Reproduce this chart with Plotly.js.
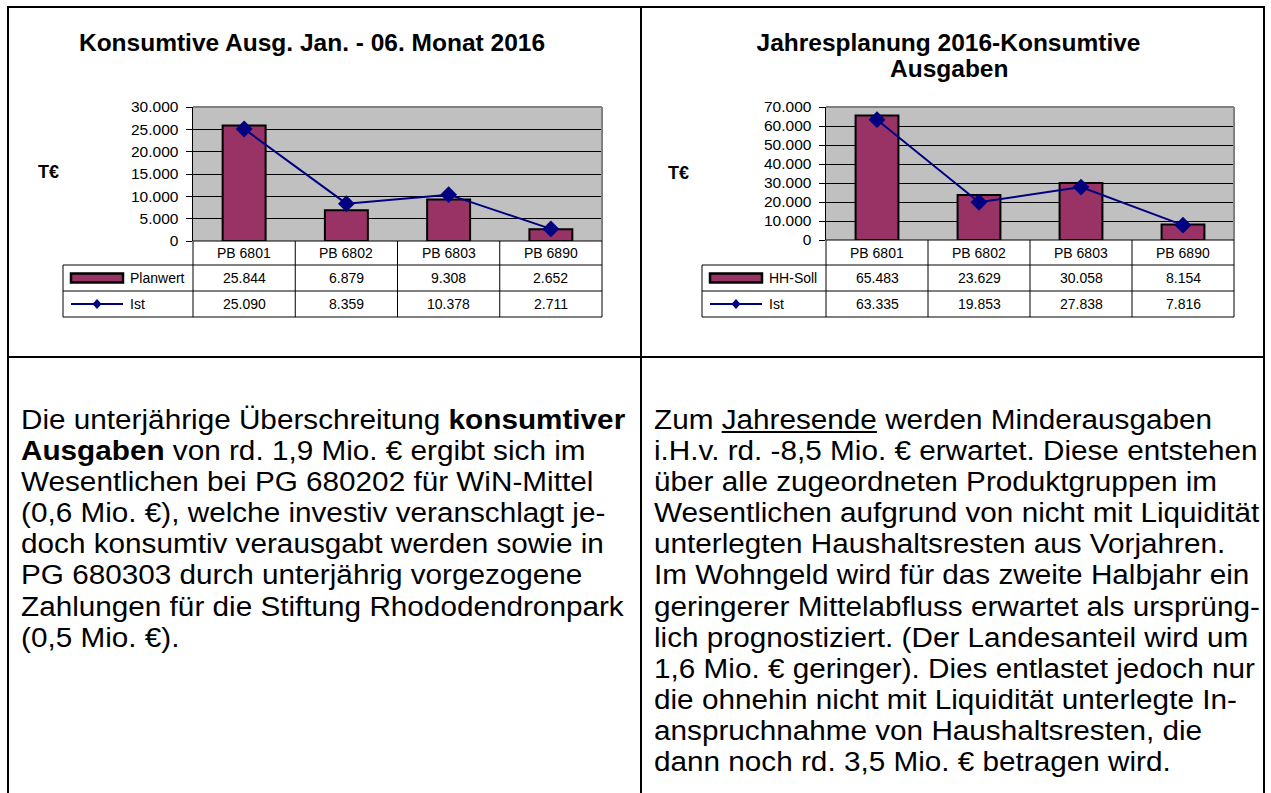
<!DOCTYPE html>
<html><head><meta charset="utf-8">
<script src="https://cdn.plot.ly/plotly-3.0.1.min.js"></script>
<style>
body{margin:0;background:#fff;}
#page{position:relative;width:1271px;height:793px;overflow:hidden;background:#fff;font-family:Arial,"Liberation Sans",sans-serif;}
.rule{position:absolute;background:#000;}
.chart{position:absolute;}
.txt{position:absolute;font-size:27px;line-height:31.1px;color:#000;white-space:nowrap;transform:scaleX(1.1);transform-origin:0 0;}
</style></head>
<body><div id="page">
<div id="chartL" class="chart" style="left:0;top:0;width:640px;height:356px"></div>
<div id="chartR" class="chart" style="left:641px;top:0;width:630px;height:356px"></div>
<div id="txtL" class="txt" style="left:21px;top:405px"></div>
<div id="txtR" class="txt" style="left:654px;top:405px"></div>
<div class="rule" style="left:7px;top:6px;width:1258px;height:2px"></div>
<div class="rule" style="left:7px;top:6px;width:2px;height:800px"></div>
<div class="rule" style="left:640px;top:6px;width:2px;height:800px"></div>
<div class="rule" style="left:1263px;top:6px;width:2px;height:800px"></div>
<div class="rule" style="left:7px;top:356px;width:1258px;height:2px"></div>
</div>
<script>
// ---- data ----
const categories = ['PB 6801', 'PB 6802', 'PB 6803', 'PB 6890'];
const leftTitleLines = ['Konsumtive Ausg. Jan. - 06. Monat 2016'];
const leftBarName = 'Planwert';
const leftBarValues = [25844, 6879, 9308, 2652];
const leftLineName = 'Ist';
const leftLineValues = [25090, 8359, 10378, 2711];
const leftYTicks = [0, 5000, 10000, 15000, 20000, 25000, 30000];

const rightTitleLines = ['Jahresplanung 2016-Konsumtive', 'Ausgaben'];
const rightBarName = 'HH-Soll';
const rightBarValues = [65483, 23629, 30058, 8154];
const rightLineName = 'Ist';
const rightLineValues = [63335, 19853, 27838, 7816];
const rightYTicks = [0, 10000, 20000, 30000, 40000, 50000, 60000, 70000];

const unitLabel = 'T€';

const leftTextLines = [
  'Die unterjährige Überschreitung <b>konsumtiver</b>',
  '<b>Ausgaben</b> von rd. 1,9 Mio. € ergibt sich im',
  'Wesentlichen bei PG 680202 für WiN-Mittel',
  '(0,6 Mio. €), welche investiv veranschlagt je-',
  'doch konsumtiv verausgabt werden sowie in',
  'PG 680303 durch unterjährig vorgezogene',
  'Zahlungen für die Stiftung Rhododendronpark',
  '(0,5 Mio. €).'
];
const rightTextLines = [
  'Zum <u>Jahresende</u> werden Minderausgaben',
  'i.H.v. rd. -8,5 Mio. € erwartet. Diese entstehen',
  'über alle zugeordneten Produktgruppen im',
  'Wesentlichen aufgrund von nicht mit Liquidität',
  'unterlegten Haushaltsresten aus Vorjahren.',
  'Im Wohngeld wird für das zweite Halbjahr ein',
  'geringerer Mittelabfluss erwartet als ursprüng-',
  'lich prognostiziert. (Der Landesanteil wird um',
  '1,6 Mio. € geringer). Dies entlastet jedoch nur',
  'die ohnehin nicht mit Liquidität unterlegte In-',
  'anspruchnahme von Haushaltsresten, die',
  'dann noch rd. 3,5 Mio. € betragen wird.'
];

document.getElementById('txtL').innerHTML = leftTextLines.join('<br>');
document.getElementById('txtR').innerHTML = rightTextLines.join('<br>');

const FONT = 'Arial, "Liberation Sans", sans-serif';
function fmt(v) { return String(v).replace(/\B(?=(\d{3})+(?!\d))/g, '.'); }

function drawChart(id, cfg) {
  const W = cfg.width, H = cfg.height;
  const L = cfg.plotLeft, R = cfg.plotRight, T = cfg.plotTop, B = cfg.plotBottom;
  const pw = R - L, ph = B - T;
  const px = v => (v - L) / pw;
  const py = v => (B - v) / ph;
  const rows = cfg.rows;
  const black = '#000';
  const ln = (x0, y0, x1, y1, xref, color, width) => ({
    type: 'line', xref: xref || 'paper', yref: 'paper', x0: x0, y0: y0, x1: x1, y1: y1,
    line: {color: color || black, width: width || 1}, layer: 'above'
  });
  const shapes = [];
  shapes.push(ln(0, 1, 1, 1, 'paper', '#808080', 2));
  shapes.push(ln(1, 0, 1, 1, 'paper', '#808080', 2));
  shapes.push(ln(0, py(rows[0]), 1, py(rows[0])));
  for (let r = 1; r < rows.length; r++) {
    shapes.push(ln(px(cfg.legendLeft), py(rows[r]), 1, py(rows[r])));
  }
  shapes.push(ln(0, py(rows[0]), 0, py(rows[3])));
  shapes.push(ln(1, py(rows[0]), 1, py(rows[3])));
  shapes.push(ln(px(cfg.legendLeft), py(rows[1]), px(cfg.legendLeft), py(rows[3])));
  for (let i = 0; i < categories.length - 1; i++) {
    shapes.push(ln(i + 0.5, py(rows[0]), i + 0.5, py(rows[3]), 'x'));
  }
  const r1c = (rows[1] + rows[2]) / 2, r2c = (rows[2] + rows[3]) / 2;
  const k0 = cfg.legendLeft + 8, k1 = cfg.legendLeft + 60, kc = (k0 + k1) / 2;
  shapes.push({type: 'rect', xref: 'paper', yref: 'paper', x0: px(k0), x1: px(k1),
    y0: py(r1c - 4.5), y1: py(r1c + 4.5), fillcolor: '#993366', line: {color: black, width: 2.5}});
  shapes.push(ln(px(k0), py(r2c), px(k1), py(r2c), 'paper', '#000080', 2));
  const d = 4.5, dv = 5;
  shapes.push({type: 'path', xref: 'paper', yref: 'paper',
    path: 'M' + px(kc) + ',' + py(r2c - dv) + ' L' + px(kc + d) + ',' + py(r2c) +
          ' L' + px(kc) + ',' + py(r2c + dv) + ' L' + px(kc - d) + ',' + py(r2c) + ' Z',
    fillcolor: '#000080', line: {color: '#000080', width: 0}});

  const ann = [];
  const hc = (rows[0] + rows[1]) / 2;
  categories.forEach((c, i) => {
    ann.push({xref: 'x', yref: 'paper', x: c, y: py(hc), text: c, showarrow: false,
      xanchor: 'center', yanchor: 'middle', font: {family: FONT, size: 14, color: black}});
    ann.push({xref: 'x', yref: 'paper', x: c, y: py(r1c), text: fmt(cfg.barValues[i]), showarrow: false,
      xanchor: 'center', yanchor: 'middle', font: {family: FONT, size: 14, color: black}});
    ann.push({xref: 'x', yref: 'paper', x: c, y: py(r2c), text: fmt(cfg.lineValues[i]), showarrow: false,
      xanchor: 'center', yanchor: 'middle', font: {family: FONT, size: 14, color: black}});
  });
  ann.push({xref: 'paper', yref: 'paper', x: px(k1 + 5), y: py(r1c), text: cfg.barName, showarrow: false,
    xanchor: 'left', yanchor: 'middle', font: {family: FONT, size: 14, color: black}});
  ann.push({xref: 'paper', yref: 'paper', x: px(k1 + 5), y: py(r2c), text: cfg.lineName, showarrow: false,
    xanchor: 'left', yanchor: 'middle', font: {family: FONT, size: 14, color: black}});
  ann.push({xref: 'paper', yref: 'paper', x: px(cfg.unitX), y: py(cfg.unitY), text: '<b>' + unitLabel + '</b>',
    showarrow: false, xanchor: 'center', yanchor: 'middle', font: {family: FONT, size: 18, color: black}});
  // additional title lines (first line is the layout title)
  for (let j = 1; j < cfg.titleLines.length; j++) {
    ann.push({xref: 'paper', yref: 'paper', x: px(cfg.titleX), y: py(cfg.titleY + j * cfg.titleGap),
      text: '<b>' + cfg.titleLines[j] + '</b>', showarrow: false, xanchor: 'center', yanchor: 'middle',
      font: {family: FONT, size: 24.5, color: black}});
  }

  const traces = [
    {type: 'bar', name: cfg.barName, x: categories, y: cfg.barValues, width: 0.42,
     marker: {color: '#993366', line: {color: black, width: 2}}, hoverinfo: 'skip'},
    {type: 'scatter', mode: 'lines+markers', name: cfg.lineName, x: categories, y: cfg.lineValues,
     line: {color: '#000080', width: 2}, marker: {symbol: 'diamond', size: 13, color: '#000080'},
     cliponaxis: false, hoverinfo: 'skip'}
  ];
  const layout = {
    width: W, height: H,
    margin: {l: L, r: W - R, t: T, b: H - B, pad: 0},
    paper_bgcolor: 'rgba(0,0,0,0)', plot_bgcolor: '#C0C0C0',
    separators: ',.',
    showlegend: false,
    bargap: 0,
    title: {text: '<b>' + cfg.titleLines[0] + '</b>', xref: 'container', yref: 'container',
      x: cfg.titleX / W, y: 1 - cfg.titleY / H, xanchor: 'center', yanchor: 'middle',
      font: {family: FONT, size: 24.5, color: black}},
    xaxis: {type: 'category', range: [-0.5, categories.length - 0.5], showgrid: false, zeroline: false,
      showline: false, showticklabels: false, ticks: '', fixedrange: true},
    yaxis: {range: [0, cfg.yMax], tickmode: 'array', tickvals: cfg.yTicks, tickformat: ',d',
      showgrid: true, gridcolor: black, gridwidth: 1, zeroline: false,
      showline: true, linecolor: black, linewidth: 1.5, ticks: 'outside', ticklen: 6, tickcolor: black,
      ticklabelstandoff: 4, tickfont: {family: FONT, size: 15.5, color: black}, fixedrange: true},
    shapes: shapes, annotations: ann
  };
  Plotly.newPlot(id, traces, layout, {staticPlot: true, displayModeBar: false});
}

drawChart('chartL', {
  width: 640, height: 356, plotLeft: 193, plotRight: 602, plotTop: 107, plotBottom: 241,
  rows: [241, 265, 291, 317], legendLeft: 63, unitX: 48, unitY: 172,
  titleLines: leftTitleLines, titleX: 312, titleY: 42, titleGap: 26, yMax: 30000, yTicks: leftYTicks,
  barName: leftBarName, barValues: leftBarValues, lineName: leftLineName, lineValues: leftLineValues
});
drawChart('chartR', {
  width: 630, height: 356, plotLeft: 185, plotRight: 593, plotTop: 107, plotBottom: 240,
  rows: [240, 265, 291, 317], legendLeft: 61, unitX: 37, unitY: 173,
  titleLines: rightTitleLines, titleX: 307.5, titleY: 42, titleGap: 26, yMax: 70000, yTicks: rightYTicks,
  barName: rightBarName, barValues: rightBarValues, lineName: rightLineName, lineValues: rightLineValues
});
</script>
</body></html>
